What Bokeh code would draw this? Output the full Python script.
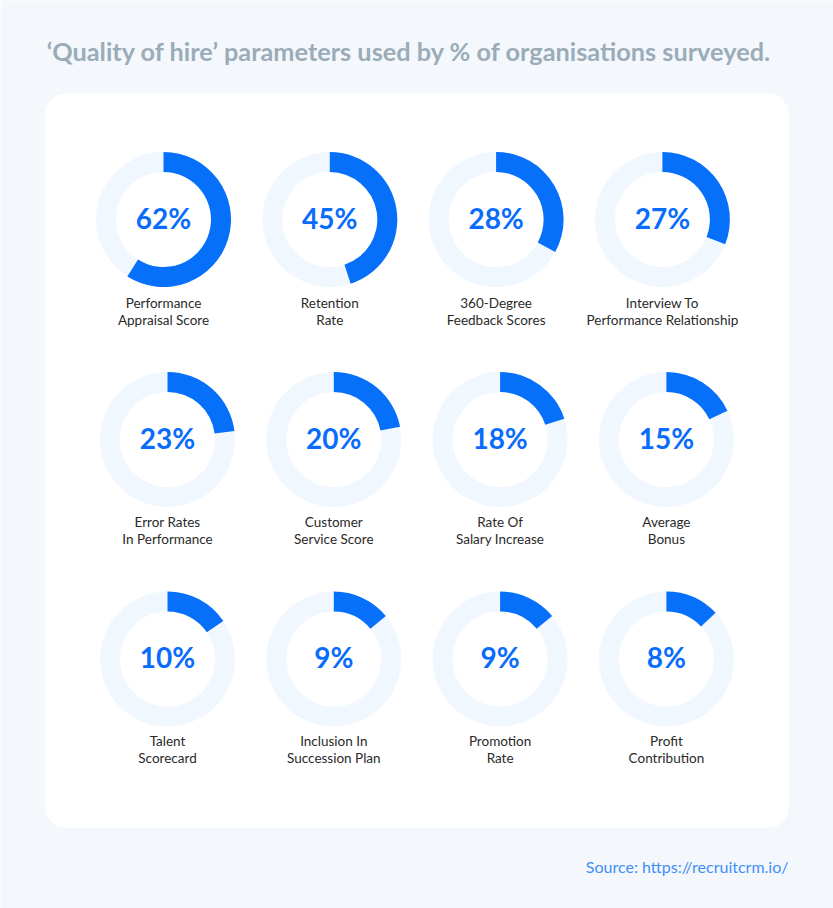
import numpy as np
from bokeh.plotting import figure
from bokeh.models import ColumnDataSource, Range1d
from bokeh.core.properties import value
from bokeh.embed import file_html
from bokeh.resources import INLINE

# ---------------- data ----------------
title_text = "\u2018Quality of hire\u2019 parameters used by % of organisations surveyed."
source_text = "Source: https://recruitcrm.io/"

label_line1 = ["Performance", "Retention", "360-Degree", "Interview To",
               "Error Rates", "Customer", "Rate Of", "Average",
               "Talent", "Inclusion In", "Promotion", "Profit"]
label_line2 = ["Appraisal Score", "Rate", "Feedback Scores", "Performance Relationship",
               "In Performance", "Service Score", "Salary Increase", "Bonus",
               "Scorecard", "Succession Plan", "Rate", "Contribution"]
pct_values = [62, 45, 28, 27, 23, 20, 18, 15, 10, 9, 9, 8]
# arc extent as drawn in the picture (percent of full circle)
arc_share_pct = [59, 45, 33, 31, 23, 22, 20, 18, 15.5, 14, 14, 13]

# ---------------- layout ----------------
W, H = 833, 908
n_cols = 4
col_step = 166.3
row_x0 = [163, 167, 167]
row_y = [219, 439, 658.5]
r_out, r_in = 67.5, 47.5

def Y(py):
    return H - py

xs, ys = [], []
for i in range(len(pct_values)):
    r, c = divmod(i, n_cols)
    xs.append(row_x0[r] + c * col_step)
    ys.append(row_y[r])

start = [np.pi / 2] * len(pct_values)
end = [np.pi / 2 - 2 * np.pi * s / 100.0 for s in arc_share_pct]

src = ColumnDataSource(dict(
    x=xs,
    y=[Y(v) for v in ys],
    y_pct=[Y(v - 2) for v in ys],
    y_l1=[Y(v + (83 if k < 4 else 82)) for k, v in enumerate(ys)],
    y_l2=[Y(v + (100 if k < 4 else 99)) for k, v in enumerate(ys)],
    start=start, end=end,
    pct=[f"{v}%" for v in pct_values],
    l1=label_line1, l2=label_line2,
))

p = figure(width=W, height=H, x_range=Range1d(0, W), y_range=Range1d(0, H),
           output_backend="svg", toolbar_location=None,
           x_axis_location=None, y_axis_location=None, min_border=0)
p.grid.visible = False
p.outline_line_color = None
p.background_fill_color = "#f4f8fc"
p.border_fill_color = "#f4f8fc"

# rounded white card
def rounded_rect(l, t, rgt, b, rad, n=12):
    px, py = [], []
    corners = [(rgt - rad, t + rad, -np.pi / 2, 0),
               (rgt - rad, b - rad, 0, np.pi / 2),
               (l + rad, b - rad, np.pi / 2, np.pi),
               (l + rad, t + rad, np.pi, 1.5 * np.pi)]
    for cx, cy, a0, a1 in corners:
        a = np.linspace(a0, a1, n)
        px.extend(cx + rad * np.cos(a))
        py.extend(cy + rad * np.sin(a))
    return px, [Y(v) for v in py]

cx_, cy_ = rounded_rect(45, 93, 788, 827, 20)
p.patch(cx_, cy_, fill_color="white", line_color=None)

# donut tracks and arcs
p.annular_wedge(x="x", y="y", inner_radius=r_in, outer_radius=r_out,
                start_angle=0, end_angle=2 * np.pi, source=src,
                fill_color="#f1f7fe", line_color=None)
p.annular_wedge(x="x", y="y", inner_radius=r_in, outer_radius=r_out,
                start_angle="start", end_angle="end", direction="clock", source=src,
                fill_color="#0770fb", line_color=None)

# percent labels
p.text(x="x", y="y_pct", text="pct", source=src, text_align="center",
       text_baseline="alphabetic", text_font=value("Lato"), text_font_style="bold",
       text_font_size="28px", text_color="#0a6cfa")

# category labels
for col in ("y_l1", "y_l2"):
    p.text(x="x", y=col, text=("l1" if col == "y_l1" else "l2"), source=src,
           text_align="center", text_baseline="alphabetic", text_font=value("Lato"),
           text_font_size="13.5px", text_color="#2a2a2a")

# title
p.text(x=[409], y=[Y(50)], text=[title_text], text_align="center",
       text_baseline="alphabetic", text_font=value("Lato"), text_font_style="bold",
       text_font_size="25.3px", text_color="#9aacb8")

# source
p.text(x=[788], y=[Y(866)], text=[source_text], text_align="right",
       text_baseline="alphabetic", text_font=value("Lato"),
       text_font_size="16px", text_color="#3f8ff5")

open("out.html", "w").write(file_html(p, INLINE))
